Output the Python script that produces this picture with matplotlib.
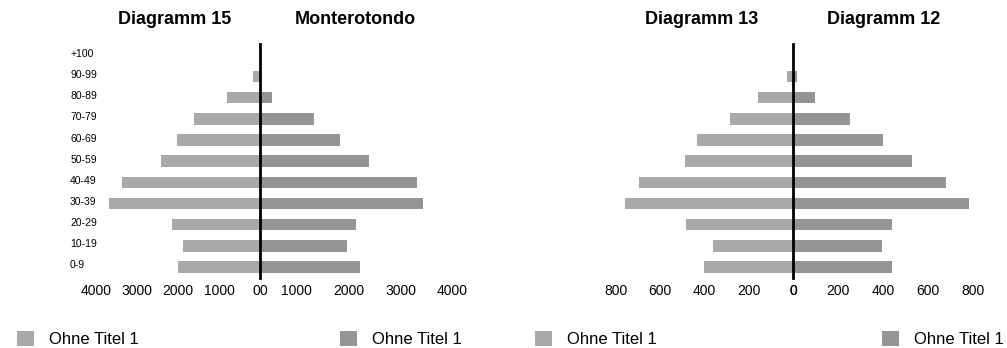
import matplotlib
matplotlib.use('Agg')
import matplotlib.pyplot as plt
from matplotlib.transforms import ScaledTranslation

plt.rcParams['font.family'] = ['Liberation Sans', 'DejaVu Sans']

# ---- data ----
age_groups = ['0-9', '10-19', '20-29', '30-39', '40-49', '50-59',
              '60-69', '70-79', '80-89', '90-99', '+100']
diagramm15 = [2000, 1870, 2150, 3680, 3370, 2410, 2030, 1620, 810, 160, 0]
monterotondo = [1920, 1680, 1850, 3130, 3010, 2100, 1530, 1040, 240, 0, 0]
diagramm13 = [403, 362, 484, 758, 695, 490, 433, 286, 159, 27, 3]
diagramm12 = [441, 396, 441, 783, 680, 527, 401, 252, 98, 15, 0]
series_label = 'Ohne Titel 1'
ticks_a = [0, 1000, 2000, 3000, 4000]
ticks_b = [0, 200, 400, 600, 800]
titles = ['Diagramm 15', 'Monterotondo', 'Diagramm 13', 'Diagramm 12']

LIGHT = '#a9a9ab'
DARK = '#959596'

W, H = 1007, 348
fig = plt.figure(figsize=(W / 100, H / 100), dpi=100)

Y0, Y1 = 44, 278


def add_ax(x0, x1):
    return fig.add_axes([x0 / W, 1 - Y1 / H, (x1 - x0) / W, (Y1 - Y0) / H])


def style(ax):
    for s in ax.spines.values():
        s.set_visible(False)
    ax.set_ylim(-0.52, 10.54)
    ax.tick_params(axis='both', length=0)
    ax.tick_params(axis='x', pad=4.5, labelsize=10)
    ax.set_yticks([])


ypos = list(range(len(age_groups)))
bh = 0.54

# Chart A
axA_l = add_ax(68, 260)
axA_r = add_ax(260, 470)
axA_l.set_xlim(192 / 41 * 1000, 0)
axA_r.set_xlim(0, 210 / 52 * 1000)
bA_l = axA_l.barh(ypos, diagramm15, height=bh, color=LIGHT)
bA_r = axA_r.barh(ypos, monterotondo, height=bh, color=DARK)

# Chart B
cB = 793.3
axB_l = add_ax(600, cB)
axB_r = add_ax(cB, 990)
axB_l.set_xlim((cB - 600) / 0.2217, 0)
axB_r.set_xlim(0, (990 - cB) / 0.2245)
bB_l = axB_l.barh(ypos, diagramm13, height=bh, color=LIGHT)
bB_r = axB_r.barh(ypos, diagramm12, height=bh, color=DARK)

for ax in (axA_l, axA_r, axB_l, axB_r):
    style(ax)

# x ticks
axA_l.set_xticks(ticks_a, [str(t) for t in ticks_a])
axA_l.get_xticklabels()[0].set_ha('right')
axA_r.set_xticks(ticks_a, [str(t) for t in ticks_a])
for i, l in enumerate(axA_r.get_xticklabels()):
    l.set_ha('left' if i == 0 else 'right')
axB_l.set_xticks(ticks_b, [str(t) for t in ticks_b])
axB_r.set_xticks(ticks_b, [str(t) for t in ticks_b])

# age labels on chart A
axA_l.set_yticks(ypos, age_groups, fontsize=7.5)
axA_l.tick_params(axis='y', pad=-1.5)
off = ScaledTranslation(0, 0.025, fig.dpi_scale_trans)
for l in axA_l.get_yticklabels():
    l.set_ha('left')
    l.set_transform(l.get_transform() + off)

# center lines
axA_r.axvline(0, color='black', lw=2, clip_on=False)
axB_r.axvline(0, color='black', lw=2, clip_on=False)

# titles
for txt, x in zip(titles, [175, 355, 702, 884]):
    fig.text(x / W, 1 - 19.5 / H, txt, ha='center', va='center',
             fontsize=13, fontweight='bold')

# legends
for ax, bars, x in [(axA_l, bA_l, 17), (axA_r, bA_r, 340),
                    (axB_l, bB_l, 535), (axB_r, bB_r, 882)]:
    ax.legend([bars], [series_label], loc='center left',
              bbox_to_anchor=(x / W, 1 - 339 / H),
              bbox_transform=fig.transFigure, frameon=False,
              borderpad=0, borderaxespad=0, handlelength=1.0,
              handleheight=1.0, handletextpad=0.9, fontsize=12)

fig.savefig('out.png', dpi=100)
